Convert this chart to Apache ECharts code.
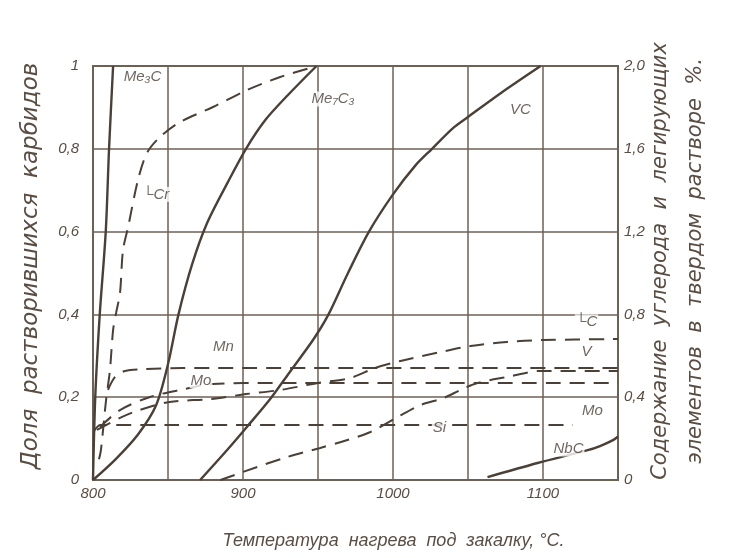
<!DOCTYPE html>
<html><head><meta charset="utf-8">
<script src="https://cdn.jsdelivr.net/npm/echarts@6/dist/echarts.min.js"></script>
<style>html,body{margin:0;padding:0;background:#fff;overflow:hidden}#c{width:733px;height:558px}</style>
</head><body><div id="c"></div>
<script>
// ---- data (temperature °C, left axis = fraction of dissolved carbides) ----
const me3cT = [800, 801.5, 804.5, 808.5, 810.7, 813.4];
const me3cF = [0, 0.2, 0.4, 0.6, 0.8, 1.0];

const me7c3T = [800, 815, 830, 842, 850, 857, 866, 876, 890, 902, 915, 930, 949];
const me7c3F = [0, 0.05, 0.11, 0.18, 0.28, 0.40, 0.52, 0.62, 0.72, 0.80, 0.87, 0.93, 1.0];

const vcT = [871.4, 890, 903, 918, 930, 947, 957, 970, 984, 1000, 1015, 1026, 1040, 1050, 1072, 1098.4];
const vcF = [0, 0.075, 0.13, 0.195, 0.255, 0.34, 0.40, 0.50, 0.60, 0.69, 0.76, 0.80, 0.85, 0.877, 0.935, 1.0];

const nbcT = [1063, 1096.4, 1129.8, 1138, 1147, 1150];
const nbcF = [0.007, 0.041, 0.072, 0.082, 0.097, 0.105];

// ---- right axis = content in solid solution, % ----
const crT = [804, 805.3, 808.7, 811.3, 813.4, 815.4, 818, 820, 823.4, 830, 836, 844.7, 858, 880, 902.8, 924.8, 946.9];
const crP = [0.10, 0.145, 0.386, 0.531, 0.725, 0.807, 0.903, 1.111, 1.222, 1.45, 1.58, 1.657, 1.729, 1.802, 1.884, 1.947, 1.995];

const cT = [802.7, 818, 831, 851, 878, 902, 925, 950, 971.6, 988, 1005, 1031.6, 1051.7, 1076, 1100, 1150];
const cP = [0.242, 0.30, 0.338, 0.377, 0.391, 0.415, 0.435, 0.469, 0.493, 0.541, 0.575, 0.618, 0.647, 0.667, 0.676, 0.681];

const vT = [885, 909.5, 929.5, 951.5, 969.6, 985, 1003, 1018.3, 1033.6, 1045, 1056.3, 1076.4, 1098.4, 1150];
const vP = [0, 0.063, 0.111, 0.155, 0.193, 0.232, 0.304, 0.362, 0.396, 0.435, 0.469, 0.498, 0.527, 0.527];

const mnT = [810, 814.7, 821.4, 834.7, 860, 1150];
const mnP = [0.435, 0.498, 0.527, 0.536, 0.541, 0.541];

const moT = [804.7, 818, 838, 858, 880, 920, 1150];
const moP = [0.256, 0.338, 0.401, 0.435, 0.464, 0.469, 0.469];

const siT = [801, 805, 850, 1000, 1120];
const siP = [0.24, 0.266, 0.266, 0.266, 0.266];

// ---- tick labels ----
const xTickLabels = {800: '800', 900: '900', 1000: '1000', 1100: '1100'};
const leftTickLabels = ['0', '0,2', '0,4', '0,6', '0,8', '1'];
const rightTickLabels = ['0', '0,4', '0,8', '1,2', '1,6', '2,0'];

// ---- curve annotations: [temperature, left-axis fraction, text] ----
const notes = [
  [833, 0.975, 'Me₃C'],
  [960, 0.92, 'Me₇C₃'],
  [1085, 0.893, 'VC'],
  [842, 0.69, '└Cr'],
  [887, 0.322, 'Mn'],
  [872, 0.24, 'Mo'],
  [1129, 0.382, '└C'],
  [1129, 0.309, 'V'],
  [1133, 0.168, 'Mo'],
  [1031, 0.126, 'Si'],
  [1117, 0.075, 'NbC']
];

const zip = (a, b) => a.map((t, i) => [t, b[i]]);
const INK = '#4a4037';
const GRIDC = '#6e6154';
const TXT = '#5a4e44';
const FONT = 'Liberation Sans';
const NFONT = 'DejaVu Sans';

function solid(name, t, f) {
  return {name, type: 'line', yAxisIndex: 0, data: zip(t, f), showSymbol: false, smooth: 0.3,
    lineStyle: {color: INK, width: 2.4}, z: 5};
}
function dashed(name, t, p) {
  return {name, type: 'line', yAxisIndex: 1, data: zip(t, p), showSymbol: false, smooth: 0.3,
    lineStyle: {color: INK, width: 2, type: [15, 9]}, z: 4};
}

const chart = echarts.init(document.getElementById('c'), null, {renderer: 'canvas', width: 733, height: 558});
chart.setOption({
  animation: false,
  backgroundColor: '#fff',
  grid: {left: 93, right: 115, top: 66, bottom: 78, show: true, borderColor: GRIDC, borderWidth: 2},
  xAxis: {
    type: 'value', min: 800, max: 1150, interval: 50,
    name: 'Температура  нагрева  под  закалку, °С.', nameLocation: 'middle', nameGap: 52, nameMoveOverlap: false,
    nameTextStyle: {fontFamily: FONT, fontStyle: 'italic', fontSize: 18, color: TXT, padding: [0, 0, 0, 76]},
    axisLine: {show: false}, axisTick: {show: false},
    axisLabel: {formatter: v => xTickLabels[v] || '', fontFamily: FONT, fontStyle: 'italic', fontSize: 15, color: TXT, margin: 6},
    splitLine: {show: true, lineStyle: {color: GRIDC, width: 1.5}}
  },
  yAxis: [{
    type: 'value', min: 0, max: 1, interval: 0.2, position: 'left',
    name: 'Доля  растворившихся  карбидов', nameLocation: 'middle', nameRotate: 90, nameGap: 50, nameMoveOverlap: false,
    nameTextStyle: {fontFamily: NFONT, fontStyle: 'italic', fontSize: 23, color: TXT, padding: [0, 0, 0, 14]},
    axisLine: {show: false}, axisTick: {show: false},
    axisLabel: {formatter: (v) => leftTickLabels[Math.round(v / 0.2)], fontFamily: FONT, fontStyle: 'italic', fontSize: 15, color: TXT, margin: 14},
    splitLine: {show: true, lineStyle: {color: GRIDC, width: 1.5}}
  }, {
    type: 'value', min: 0, max: 2, interval: 0.4, position: 'right',
    name: 'Содержание  углерода  и  легирующих\nэлементов  в  твердом  растворе  %.', nameLocation: 'middle', nameRotate: 90, nameGap: 25, nameMoveOverlap: false,
    nameTextStyle: {fontFamily: NFONT, fontStyle: 'italic', fontSize: 21, lineHeight: 35, color: TXT, padding: [0, 0, 0, 24]},
    axisLine: {show: false}, axisTick: {show: false},
    axisLabel: {formatter: (v) => rightTickLabels[Math.round(v / 0.4)], fontFamily: FONT, fontStyle: 'italic', fontSize: 15, color: TXT, margin: 6},
    splitLine: {show: false}
  }],
  series: [
    solid('Me3C', me3cT, me3cF),
    solid('Me7C3', me7c3T, me7c3F),
    solid('VC', vcT, vcF),
    solid('NbC', nbcT, nbcF),
    dashed('Cr', crT, crP),
    dashed('C', cT, cP),
    dashed('V', vT, vP),
    dashed('Mn', mnT, mnP),
    dashed('Mo', moT, moP),
    dashed('Si', siT, siP),
    {
      name: 'labels', type: 'scatter', yAxisIndex: 0, symbolSize: 0, z: 6,
      data: notes.map(n => ({value: [n[0], n[1]], name: n[2]})),
      label: {show: true, position: 'inside', formatter: p => p.name,
        fontFamily: FONT, fontStyle: 'italic', fontSize: 15, color: INK,
        backgroundColor: '#fff', padding: [0, 1]}
    }
  ]
});
</script></body></html>
